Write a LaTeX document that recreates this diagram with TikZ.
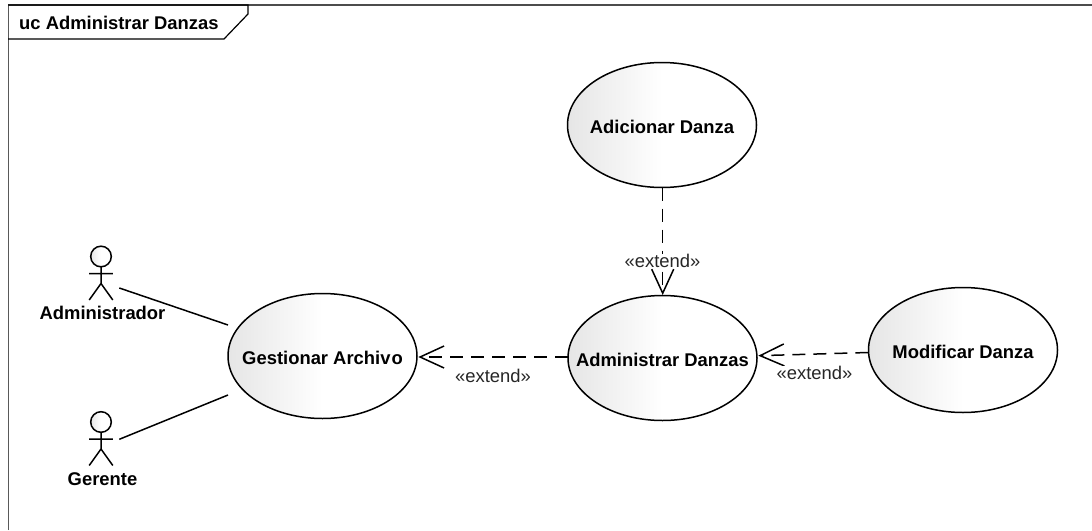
\documentclass[tikz,border=0pt]{standalone}
\usepackage{fontspec}
\setmainfont{Liberation Sans}
\usetikzlibrary{arrows.meta,shapes.geometric}
\definecolor{ucgray}{gray}{0.9}
\pgfdeclarehorizontalshading{ucshade}{100bp}{color(0bp)=(ucgray); color(25bp)=(ucgray); color(50bp)=(white); color(100bp)=(white)}
\tikzset{
  usecase/.style={ellipse,draw=black,line width=1.5pt,shading=ucshade,inner sep=0pt,minimum width=189pt,minimum height=125pt},
  uctext/.style={font=\fontsize{18.4}{20}\selectfont\bfseries,text=black,inner sep=0pt,yshift=-2pt},
  actorlabel/.style={font=\fontsize{18.4}{20}\selectfont\bfseries,text=black,inner sep=0pt},
  extlabel/.style={font=\fontsize{18.4}{20}\selectfont,text=black!85,fill=white,inner sep=0.5pt},
  assoc/.style={line width=1.5pt,black},
  ext/.style={line width=1.5pt,black,dash pattern=on 13pt off 8pt,-{Straight Barb[length=24pt,width=22pt,line width=1.5pt]}},
  pics/actor/.style={code={
    \draw[line width=1.5pt,shading=ucshade] (0,0) circle (10.3pt);
    \draw[line width=1.5pt] (0,10.3) -- (0,27) (-11.8,17) -- (11.8,17) (-11.8,43.5) -- (0,27) -- (11.8,43.5);
  }}
}
\begin{document}
\begin{tikzpicture}[x=1pt,y=-1pt]
\useasboundingbox (0,0) rectangle (1092,530);
% frame
\draw[line width=1.6pt,black!65] (8.3,530) -- (8.3,5);
\draw[line width=1.5pt,black!70] (8,5) -- (1092,5);
\draw[line width=1.2pt,black] (8,5) -- (248,5) -- (248,14) -- (224,39) -- (8,39);
\node[anchor=base west,inner sep=0pt,font=\fontsize{18.4}{20}\selectfont\bfseries] (title) at (19,29.5) {uc Administrar Danzas};
% use cases
\node[usecase] (add) at (662,125) {};
\node[usecase] (gest) at (322.5,356) {};
\node[usecase] (admin) at (662.5,358) {};
\node[usecase] (mod) at (963,350) {};
\node[uctext] (addt) at (add) {Adicionar Danza};
\node[uctext] (gestt) at (gest) {Gestionar Archiv\kern1pt o};
\node[uctext] (admint) at (admin) {Administrar Danzas};
\node[uctext] (modt) at (mod) {Modificar Danza};
% actors
\pic at (101,256.5) {actor};
\pic at (101,422) {actor};
\node[actorlabel] (a1) at (102.5,313) {Administrador};
\node[actorlabel] (a2) at (102.5,479) {Gerente};
\coordinate (a1end) at (119.3,288);
\coordinate (a2end) at (119.3,439.3);
\coordinate (g1) at (228,325);
\coordinate (g2) at (228,395);
\draw[assoc] (a1end) -- (g1);
\draw[assoc] (a2end) -- (g2);
% extends
\coordinate (addb) at (662.7,187.5);
\coordinate (admt) at (662.7,295);
\coordinate (admr) at (758.3,355.7);
\coordinate (modl) at (868.3,352.5);
\coordinate (adml) at (567.7,357);
\coordinate (gesr) at (418.3,357);
\draw[ext] (addb) -- (admt);
\draw[ext] (adml) -- (gesr);
\draw[ext] (modl) -- (admr);
\node[extlabel] (l1) at (662.5,261) {«extend»};
\node[extlabel] (l2) at (493,376) {«extend»};
\node[extlabel] (l3) at (814.5,373) {«extend»};
\end{tikzpicture}
\end{document}
